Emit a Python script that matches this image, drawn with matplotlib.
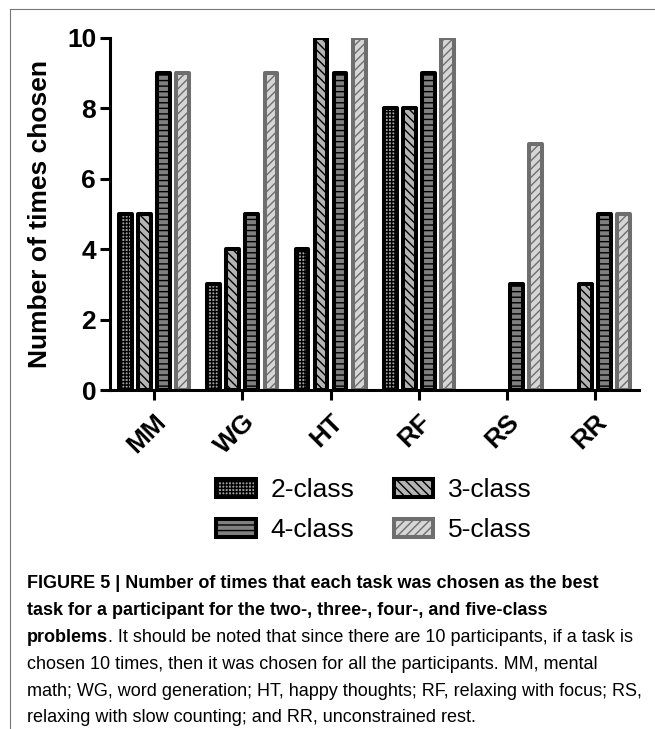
import numpy as np
import matplotlib.pyplot as plt
from matplotlib.patches import Patch
from matplotlib.lines import Line2D

tarefas = ['MM', 'WG', 'HT', 'RF', 'RS', 'RR']
classes = ['2-class', '3-class', '4-class', '5-class']
duas = [5, 3, 4, 8, 0, 0]
tres = [5, 4, 10, 8, 0, 3]
quatro = [9, 5, 9, 9, 3, 5]
cinco = [9, 9, 10, 10, 7, 5]
valores = [duas, tres, quatro, cinco]
ticks_y = [0, 2, 4, 6, 8, 10]

# estilos de cada serie: cor de fundo, borda, hachura
estilos = [
    dict(facecolor='#a0a0a0', edgecolor='black', hatch='+++++'),
    dict(facecolor='#b4b4b4', edgecolor='black', hatch='\\\\\\\\'),
    dict(facecolor='#808080', edgecolor='black', hatch='---'),
    dict(facecolor='#d6d6d6', edgecolor='#6e6e6e', hatch='////'),
]

plt.rcParams['font.family'] = 'Liberation Sans'
plt.rcParams['hatch.linewidth'] = 1.0

fig = plt.figure(figsize=(6.55, 7.29), dpi=100)
ax = fig.add_axes([0.168, 0.465, 0.808, 0.483])

x = np.arange(len(tarefas))
passo_barra = 0.216
largura = 0.145
for i, (serie, est) in enumerate(zip(valores, estilos)):
    bars = ax.bar(x + (i - 1.5) * passo_barra, serie, largura, linewidth=2.9,
                  label=classes[i], **est)
    for b in bars:
        b.set_joinstyle('round')
        if b.get_height() == 0:
            # barra vazia nao aparece no original
            b.set_linewidth(0)

ax.set_xlim(-0.5, 5.5)
ax.set_ylim(0, 10)
ax.set_yticks(ticks_y)
ax.set_xticks(x)
ax.set_xticklabels(tarefas, rotation=45, ha='right', rotation_mode='anchor',
                   fontsize=19, fontweight='bold')
for lab in ax.get_yticklabels():
    lab.set_fontsize(19)
    lab.set_fontweight('bold')
ax.tick_params(axis='both', width=2.2, length=7, pad=3)
ax.tick_params(axis='x', pad=7)
ax.spines['top'].set_visible(False)
ax.spines['right'].set_visible(False)
ax.spines['left'].set_linewidth(2.2)
ax.spines['bottom'].set_linewidth(2.2)
ax.set_ylabel('Number of times chosen', fontsize=19, fontweight='bold', labelpad=11)

# ordem das colunas: 2 e 3 em cima, 4 e 5 embaixo
ordem = [0, 2, 1, 3]
handles = [Patch(label=classes[k], linewidth=2.9, joinstyle='round', **estilos[k]) for k in ordem]
fig.legend(handles=handles, loc='center', bbox_to_anchor=(0.571, 0.30), ncol=2,
           frameon=False, fontsize=19, handlelength=1.5, handleheight=0.65,
           columnspacing=1.5, handletextpad=0.55, labelspacing=0.6)

# moldura da figura
fig.add_artist(Line2D([10 / 655, 10 / 655], [0, 1 - 9 / 729], color='#777777', linewidth=0.8))
fig.add_artist(Line2D([10 / 655, 1], [1 - 9 / 729, 1 - 9 / 729], color='#777777', linewidth=0.8))

# legenda da figura
linhas_negrito = ['FIGURE 5 | Number of times that each task was chosen as the best',
                  'task for a participant for the two-, three-, four-, and five-class']
y0 = 1 - 584 / 729
passo = 26.8 / 729
for k, t in enumerate(linhas_negrito):
    fig.text(27 / 655, y0 - k * passo, t, fontsize=13, fontweight='bold', va='center', ha='left')
t1 = fig.text(27 / 655, y0 - 2 * passo, 'problems', fontsize=13, fontweight='bold', va='center', ha='left')
fig.canvas.draw()
bb = t1.get_window_extent()
fig.text(bb.x1 / fig.bbox.width, y0 - 2 * passo,
         '. It should be noted that since there are 10 participants, if a task is',
         fontsize=13, va='center', ha='left')
linhas = ['chosen 10 times, then it was chosen for all the participants. MM, mental',
          'math; WG, word generation; HT, happy thoughts; RF, relaxing with focus; RS,',
          'relaxing with slow counting; and RR, unconstrained rest.']
for k, t in enumerate(linhas):
    fig.text(27 / 655, y0 - (3 + k) * passo, t, fontsize=13, va='center', ha='left')

plt.savefig('out.png', dpi=100)
